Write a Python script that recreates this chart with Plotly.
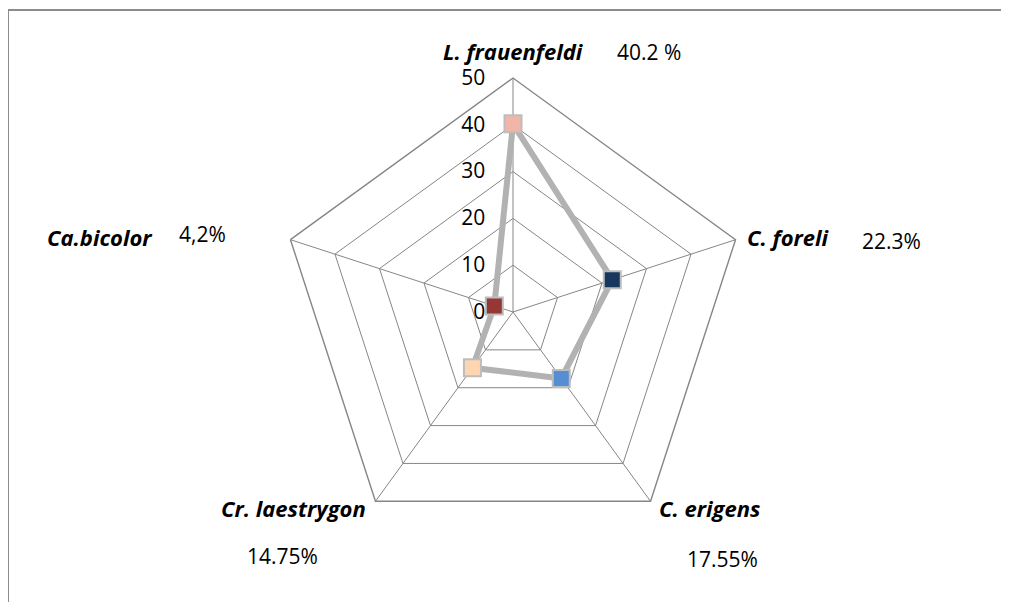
import plotly.graph_objects as go

# page body has an 8px margin, so the figure is drawn 8px in from the window edge
OFF = 8
W, H = 1009 - 2 * OFF, 610 - 2 * OFF

categories = ["L. frauenfeldi", "C. foreli", "C. erigens", "Cr. laestrygon", "Ca.bicolor"]
values = [40.2, 22.3, 17.55, 14.75, 4.2]
pct_labels = ["40.2 %", "22.3%", "17.55%", "14.75%", "4,2%"]
marker_colors = ["#F2B6A8", "#17375E", "#558ED5", "#FDD6B0", "#953735"]
radial_ticks = [0, 10, 20, 30, 40, 50]

def px(x):
    return (x - OFF) / W

def py(y):
    return 1 - (y - OFF) / H

cx, cy, R = 513, 312, 234

fig = go.Figure()
fig.add_trace(go.Scatterpolar(
    r=values + [values[0]], theta=categories + [categories[0]],
    mode="lines", line=dict(color="#B2B2B2", width=6), hoverinfo="skip",
))
fig.add_trace(go.Scatterpolar(
    r=values, theta=categories, mode="markers",
    marker=dict(symbol="square", size=17, color=marker_colors,
                line=dict(color="#BDBDBD", width=2)),
))

fig.update_layout(
    width=W, height=H, showlegend=False,
    paper_bgcolor="white", plot_bgcolor="white",
    margin=dict(l=0, r=0, t=0, b=0),
    polar=dict(
        domain=dict(x=[px(cx - R), px(cx + R)], y=[py(cy + R), py(cy - R)]),
        gridshape="linear", bgcolor="white",
        radialaxis=dict(range=[0, 50], tickvals=radial_ticks, angle=90,
                        side="counterclockwise", showline=False,
                        gridcolor="#868686", gridwidth=1.4,
                        ticks="outside", ticklen=20, tickcolor="rgba(0,0,0,0)",
                        tickfont=dict(family="Open Sans", size=21, color="#000000"),
                        tickangle=90),
        angularaxis=dict(rotation=90, direction="clockwise", showticklabels=False,
                         ticks="", linecolor="#868686", linewidth=1.4,
                         gridcolor="#868686", gridwidth=1.4, showline=True),
    ),
)

lab_font = dict(family="Open Sans", size=22, color="#000000")
pct_font = dict(family="Open Sans", size=21, color="#000000")
# (x, y, anchor) for category labels, in window pixels
cat_pos = [(513, 51, "center"), (745, 237, "left"), (657, 508, "left"),
           (368, 508, "right"), (155, 237, "right")]
pct_pos = [(615, 52, "left"), (860, 241, "left"), (722, 559, "center"),
           (282, 556, "center"), (177, 234, "left")]

for name, (x, y, a) in zip(categories, cat_pos):
    fig.add_annotation(x=px(x), y=py(y), xref="paper", yref="paper", xanchor=a,
                       yanchor="middle", text=f"<b><i>{name}</i></b>",
                       showarrow=False, font=lab_font)
for t, (x, y, a) in zip(pct_labels, pct_pos):
    fig.add_annotation(x=px(x), y=py(y), xref="paper", yref="paper", xanchor=a,
                       yanchor="middle", text=t, showarrow=False, font=pct_font)

fig.add_shape(type="line", xref="paper", yref="paper", x0=px(8), x1=1, y0=py(10), y1=py(10),
              line=dict(color="#8C8C8C", width=2))
fig.add_shape(type="line", xref="paper", yref="paper", x0=px(8), x1=px(8), y0=py(10), y1=0,
              line=dict(color="#8C8C8C", width=2))

fig.write_html("out.html")
